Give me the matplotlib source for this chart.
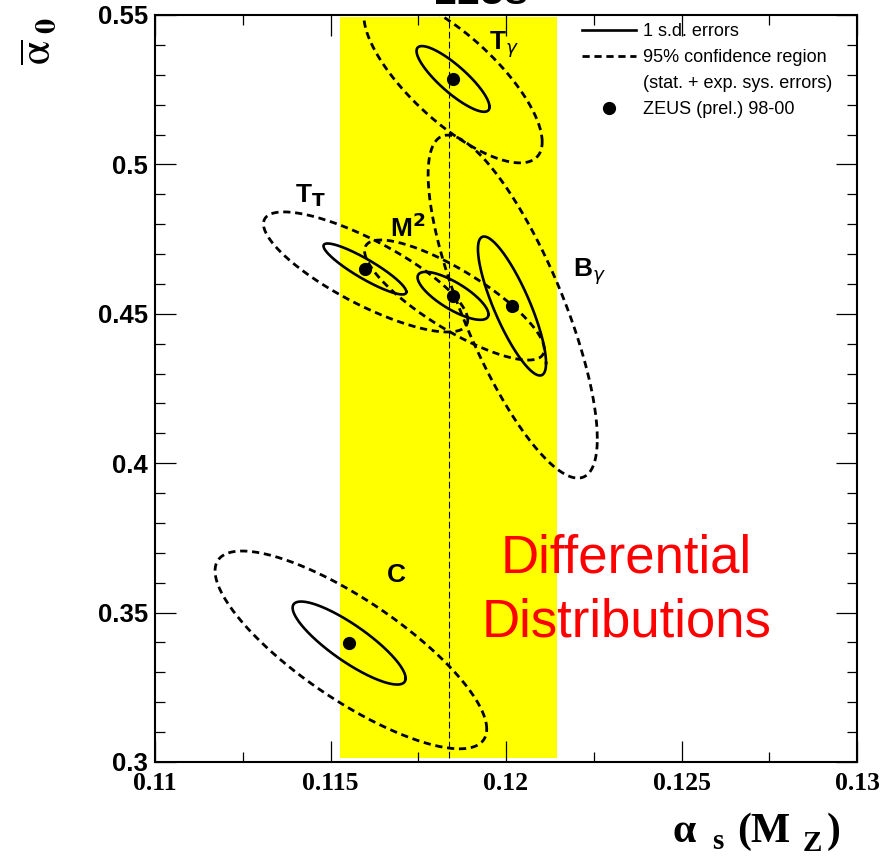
import numpy as np
import matplotlib
matplotlib.use('Agg')
import matplotlib.pyplot as plt
from matplotlib.lines import Line2D

plt.rcParams['font.family'] = ['Liberation Sans', 'DejaVu Sans']

# fitted points (alpha_s(M_Z), alpha_0 bar)
alpha_s = [0.11849, 0.11598, 0.11849, 0.12017, 0.11553]
alpha_0 = [0.5286, 0.4650, 0.4560, 0.4526, 0.3398]

# 1 s.d. error ellipses
sd_sig_as = [0.00104, 0.00118, 0.00101, 0.00097, 0.00161]
sd_sig_a0 = [0.0110, 0.00853, 0.00803, 0.02326, 0.01389]
sd_rho = [-0.85, -0.90, -0.77, -0.82, -0.85]

# 95% confidence regions (stat. + exp. sys.)
cl_as = [0.11849, 0.11600, 0.11853, 0.12019, 0.11558]
cl_a0 = [0.5286, 0.4640, 0.4546, 0.4524, 0.3375]
cl_sig_as = [0.00254, 0.00291, 0.00256, 0.00241, 0.00387]
cl_sig_a0 = [0.0281, 0.0201, 0.0201, 0.0574, 0.0331]
cl_rho = [-0.75, -0.80, -0.82, -0.77, -0.80]

# variable names and where they are written
var_labels = [r'T$_{\gamma}$', r'T$_{\mathbf{T}}$', r'M$^{\mathbf{2}}$', r'B$_{\gamma}$', 'C']
label_x = [0.11952, 0.11399, 0.11670, 0.12191, 0.11661]
label_y = [0.53829, 0.48708, 0.47570, 0.46232, 0.36024]

# world average band and central value
band_as = (0.11527, 0.12145)
band_a0 = (0.3013, 0.5493)
central_as = 0.11838

xticks = [0.11, 0.115, 0.12, 0.125, 0.13]
xtick_labels = ['0.11', '0.115', '0.12', '0.125', '0.13']
yticks = [0.3, 0.35, 0.4, 0.45, 0.5, 0.55]
ytick_labels = ['0.3', '0.35', '0.4', '0.45', '0.5', '0.55']


def contour(cx, cy, sx, sy, rho, n=300):
    t = np.linspace(0, 2 * np.pi, n)
    x = cx + sx * np.cos(t)
    y = cy + sy * (rho * np.cos(t) + np.sqrt(1 - rho ** 2) * np.sin(t))
    return x, y


fig = plt.figure(figsize=(8.95, 8.57), dpi=100)
ax = fig.add_axes([0.1732, 0.1109, 0.7844, 0.8716])

ax.fill_between(band_as, band_a0[0], band_a0[1], color='#ffff00', lw=0, zorder=0)
ax.plot([central_as, central_as], [band_a0[0], 0.55], color='k', lw=0.8,
        ls=(0, (6, 3)), zorder=1)

dash = (0, (2.6, 1.7))
for i in range(len(alpha_s)):
    x, y = contour(alpha_s[i], alpha_0[i], sd_sig_as[i], sd_sig_a0[i], sd_rho[i])
    ax.plot(x, y, color='k', lw=1.9, zorder=3)
    x, y = contour(cl_as[i], cl_a0[i], cl_sig_as[i], cl_sig_a0[i], cl_rho[i])
    ax.plot(x, y, color='k', lw=2.0, ls=dash, zorder=3)
    ax.text(label_x[i], label_y[i], var_labels[i], fontsize=19, fontweight='bold',
            ha='left', va='baseline', zorder=5)

ax.plot(alpha_s, alpha_0, 'o', color='k', ms=8.5, zorder=4)

ax.text(0.12342, 0.36325, 'Differential', color='#ff0000', fontsize=38,
        ha='center', va='baseline', zorder=5)
ax.text(0.12342, 0.34184, 'Distributions', color='#ff0000', fontsize=38,
        ha='center', va='baseline', zorder=5)

handles = [Line2D([], [], color='k', lw=1.9),
           Line2D([], [], color='k', lw=2.0, ls=dash),
           Line2D([], [], lw=0),
           Line2D([], [], color='k', lw=0, marker='o', ms=8.5)]
labels = ['1 s.d. errors', '95% confidence region', '(stat. + exp. sys. errors)',
          'ZEUS (prel.) 98-00']
ax.legend(handles, labels, loc='upper left', bbox_to_anchor=(0.608, 0.989),
          frameon=False, fontsize=13, handlelength=3.0, handletextpad=0.4,
          labelspacing=0.5, borderpad=0, borderaxespad=0)

ax.set_xlim(0.11, 0.13)
ax.set_ylim(0.3, 0.55)
ax.set_xticks(xticks, labels=xtick_labels, fontfamily='Liberation Serif',
              fontweight='bold', fontsize=18.5)
ax.set_yticks(yticks, labels=ytick_labels, fontweight='bold', fontsize=18.5)
ax.set_xticks(np.arange(0.11, 0.1301, 0.0025), minor=True)
ax.set_yticks(np.arange(0.3, 0.5501, 0.01), minor=True)
ax.tick_params(which='both', direction='in', top=True, right=True, width=0.9)
ax.tick_params(which='major', length=15)
ax.tick_params(which='minor', length=7.5)
ax.tick_params(axis='x', pad=7)
ax.tick_params(axis='y', pad=5)
for s in ax.spines.values():
    s.set_linewidth(1.5)

# x axis title: alpha_s (M_Z), pieces placed as in the original
serif = dict(fontfamily='Liberation Serif', fontweight='bold', va='baseline', ha='left')
H, W = 857.0, 895.0
fig.text(673 / W, 1 - 842 / H, '\u03b1', fontsize=30, **serif)
fig.text(712 / W, 1 - 849 / H, 's', fontsize=21, **serif)
fig.text(737 / W, 1 - 842 / H, '(M', fontsize=30, **serif)
fig.text(803 / W, 1 - 851 / H, 'Z', fontsize=21, **serif)
fig.text(827 / W, 1 - 842 / H, ')', fontsize=30, **serif)

# y axis title: alpha_0 with bar, rotated
fig.text(50 / W, 1 - 17 / H, r'$\overline{\mathrm{\alpha}}_{\ \mathbf{0}}$', rotation=90,
         rotation_mode='anchor', ha='right', va='baseline', fontsize=31,
         math_fontfamily='stix')
fig.text(481 / W, 1 - 3.5 / H, 'ZEUS', ha='center', va='baseline',
         fontsize=25, fontweight='bold')

fig.savefig('out.png', dpi=100)
